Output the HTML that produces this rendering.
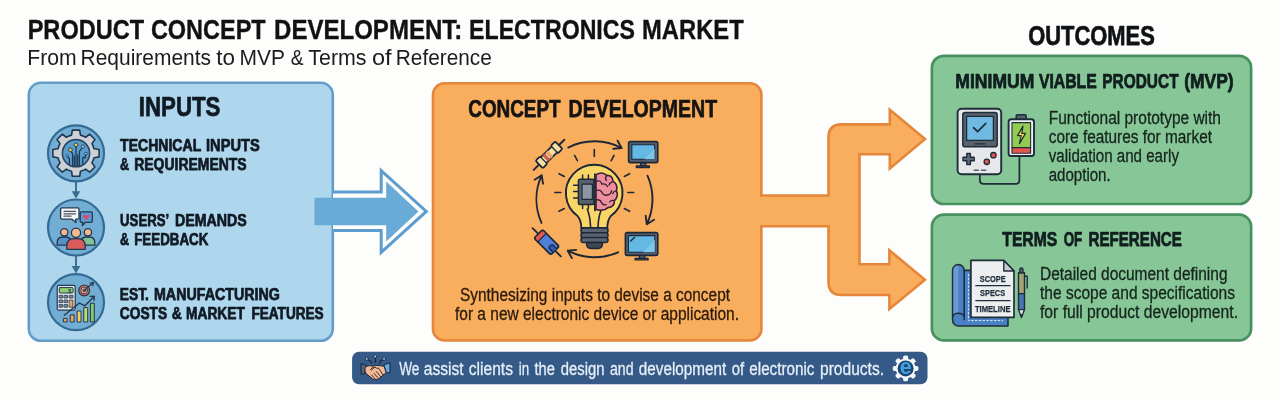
<!DOCTYPE html>
<html lang="en">
<head>
<meta charset="utf-8">
<title>Product Concept Development: Electronics Market</title>
<style>
html,body{margin:0;padding:0;background:#fdfdfb;}
body{width:1280px;height:400px;overflow:hidden;font-family:"Liberation Sans",sans-serif;}
svg{display:block;will-change:transform;}
text{font-family:"Liberation Sans",sans-serif;}
.b{font-weight:700;stroke:#111a24;stroke-width:0.75px;stroke-linejoin:round;}
.t{stroke-width:0.35px;stroke:#111;}
.r{stroke-width:0.3px;stroke-linejoin:round;}
</style>
</head>
<body>
<svg width="1280" height="400" viewBox="0 0 1280 400">
<rect x="0" y="0" width="1280" height="400" fill="#fdfdfb"/>

<!-- TITLE -->
<text class="b t" y="38.5" font-size="27" fill="#111" id="t-title"><tspan x="27.68" textLength="116.4" lengthAdjust="spacingAndGlyphs">PRODUCT</tspan> <tspan x="150.88" textLength="114.8" lengthAdjust="spacingAndGlyphs">CONCEPT</tspan> <tspan x="274.06" textLength="188.3" lengthAdjust="spacingAndGlyphs">DEVELOPMENT:</tspan> <tspan x="469.06" textLength="165.9" lengthAdjust="spacingAndGlyphs">ELECTRONICS</tspan> <tspan x="642.06" textLength="101.6" lengthAdjust="spacingAndGlyphs">MARKET</tspan></text>
<text  y="64.8" font-size="21.2" fill="#1c1c1c" id="t-sub"><tspan x="27.3" textLength="49.4" lengthAdjust="spacingAndGlyphs">From</tspan> <tspan x="80.54" textLength="130.5" lengthAdjust="spacingAndGlyphs">Requirements</tspan> <tspan x="216.32" textLength="18.7" lengthAdjust="spacingAndGlyphs">to</tspan> <tspan x="239.48" textLength="45.1" lengthAdjust="spacingAndGlyphs">MVP</tspan> <tspan x="290.76" textLength="12.8" lengthAdjust="spacingAndGlyphs">&amp;</tspan> <tspan x="308.38" textLength="58.2" lengthAdjust="spacingAndGlyphs">Terms</tspan> <tspan x="372.06" textLength="19.6" lengthAdjust="spacingAndGlyphs">of</tspan> <tspan x="395.86" textLength="95.9" lengthAdjust="spacingAndGlyphs">Reference</tspan></text>

<!-- INPUTS BOX -->
<rect x="28.8" y="82.8" width="304" height="258" rx="12" ry="12" fill="#aed6ed" stroke="#639ecb" stroke-width="2.6"/>
<text class="b" x="138.8" y="116.2" font-size="27.8" fill="#111a24" textLength="81.6" lengthAdjust="spacingAndGlyphs">INPUTS</text>

<text class="b" y="150.9" font-size="17.3" fill="#111a24" id="t-tech"><tspan x="120.08" textLength="80.9" lengthAdjust="spacingAndGlyphs">TECHNICAL</tspan> <tspan x="206.0" textLength="53.7" lengthAdjust="spacingAndGlyphs">INPUTS</tspan></text>
<text class="b" y="170.0" font-size="17.3" fill="#111a24" id="t-req"><tspan x="120.08" textLength="9.1" lengthAdjust="spacingAndGlyphs">&amp;</tspan> <tspan x="134.2" textLength="112.5" lengthAdjust="spacingAndGlyphs">REQUIREMENTS</tspan></text>
<text class="b" y="225.9" font-size="17.3" fill="#111a24" id="t-users"><tspan x="120.08" textLength="48.4" lengthAdjust="spacingAndGlyphs">USERS’</tspan> <tspan x="174.94" textLength="71.8" lengthAdjust="spacingAndGlyphs">DEMANDS</tspan></text>
<text class="b" y="245.0" font-size="17.3" fill="#111a24" id="t-feed"><tspan x="120.08" textLength="9.1" lengthAdjust="spacingAndGlyphs">&amp;</tspan> <tspan x="134.2" textLength="74.1" lengthAdjust="spacingAndGlyphs">FEEDBACK</tspan></text>
<text class="b" y="300.4" font-size="17.3" fill="#111a24" id="t-est"><tspan x="119.76" textLength="29.2" lengthAdjust="spacingAndGlyphs">EST.</tspan> <tspan x="154.0" textLength="125.8" lengthAdjust="spacingAndGlyphs">MANUFACTURING</tspan></text>
<text class="b" y="319.2" font-size="17.3" fill="#111a24" id="t-costs"><tspan x="119.76" textLength="47.4" lengthAdjust="spacingAndGlyphs">COSTS</tspan> <tspan x="171.76" textLength="10.0" lengthAdjust="spacingAndGlyphs">&amp;</tspan> <tspan x="185.94" textLength="59.0" lengthAdjust="spacingAndGlyphs">MARKET</tspan> <tspan x="251.38" textLength="72.3" lengthAdjust="spacingAndGlyphs">FEATURES</tspan></text>

<!-- connectors between circles -->
<g stroke="#3a6c93" stroke-width="1.9" fill="#3a6c93">
<line x1="76" y1="182" x2="76" y2="192"/>
<path d="M71.7 191.2 L80.3 191.2 L76 198.6 Z" stroke="none"/>
<line x1="76" y1="256" x2="76" y2="267"/>
<path d="M71.7 266 L80.3 266 L76 273.4 Z" stroke="none"/>
</g>

<!-- ICON CIRCLES -->
<g id="c1"><circle cx="76" cy="153.3" r="28" fill="#72add4" stroke="#346a94" stroke-width="2.2"/>
<path d="M94.05 148.72 L99.11 149.54 L99.11 156.86 L94.05 157.68 A18.60 18.60 0 0 1 91.93 162.79 L94.93 166.95 L89.75 172.13 L85.59 169.13 A18.60 18.60 0 0 1 80.48 171.25 L79.66 176.31 L72.34 176.31 L71.52 171.25 A18.60 18.60 0 0 1 66.41 169.13 L62.25 172.13 L57.07 166.95 L60.07 162.79 A18.60 18.60 0 0 1 57.95 157.68 L52.89 156.86 L52.89 149.54 L57.95 148.72 A18.60 18.60 0 0 1 60.07 143.61 L57.07 139.45 L62.25 134.27 L66.41 137.27 A18.60 18.60 0 0 1 71.52 135.15 L72.34 130.09 L79.66 130.09 L80.48 135.15 A18.60 18.60 0 0 1 85.59 137.27 L89.75 134.27 L94.93 139.45 L91.93 143.61 A18.60 18.60 0 0 1 94.05 148.72 Z" fill="#cdd1d6" stroke="#1f3854" stroke-width="1.6" stroke-linejoin="round"/>
<circle cx="76" cy="153.2" r="13.6" fill="#5a9dca" stroke="#2b4864" stroke-width="1.6"/>
<g fill="none" stroke="#1f3a57" stroke-width="1.3" stroke-linecap="round" stroke-linejoin="round">
<path d="M76 166.3 V147"/><path d="M72.6 165.8 V153.5 L71 151.6"/><path d="M79.4 165.8 V151.5 L81.8 148"/><path d="M82.8 164.2 V157.5 H85.5 V154.8"/><path d="M69.4 164.5 V158.6 L67.6 157"/><path d="M74.3 166 V156"/><path d="M77.7 166 V155"/>
</g>
<circle cx="76" cy="144.8" r="1.9" fill="#f2c94c" stroke="#1f3a57" stroke-width="0.9"/>
<circle cx="70.4" cy="149.8" r="1.9" fill="#f2c94c" stroke="#1f3a57" stroke-width="0.9"/>
<circle cx="82.8" cy="146.6" r="1.6" fill="#9fd0ee" stroke="#1f3a57" stroke-width="0.9"/>
<circle cx="86" cy="153.6" r="1.4" fill="#9fd0ee" stroke="#1f3a57" stroke-width="0.9"/>
<circle cx="67.2" cy="155.6" r="1.1" fill="#9fd0ee" stroke="#1f3a57" stroke-width="0.8"/>
</g>
<g id="c2"><circle cx="76" cy="227.5" r="28" fill="#72add4" stroke="#346a94" stroke-width="2.2"/>
<g stroke="#22384f" stroke-width="1.3" stroke-linejoin="round" stroke-linecap="round">
<!-- heart bubble -->
<path d="M81.5 211.8 H91 Q92.3 211.8 92.3 213.1 V221 Q92.3 222.3 91 222.3 H85.5 L82.3 225.6 L82.8 222.3 H81.5 Q80.2 222.3 80.2 221 V213.1 Q80.2 211.8 81.5 211.8 Z" fill="#5a9ad0"/>
<!-- white bubble -->
<path d="M62 207.8 H77.6 Q79 207.8 79 209.2 V217.8 Q79 219.2 77.6 219.2 H75.6 L76 222.6 L72 219.2 H62 Q60.6 219.2 60.6 217.8 V209.2 Q60.6 207.8 62 207.8 Z" fill="#f3f5f7"/>
<!-- left person -->
<path d="M57.2 245.2 V242.5 Q57.2 237 63 237 H65.6 Q70 237 71 241 L69 245.2 Z" fill="#5b8fc9"/>
<circle cx="64.3" cy="232.3" r="3.7" fill="#f4b98f"/>
<!-- right person -->
<path d="M94.8 245.2 V242.5 Q94.8 237 89 237 H86.4 Q82 237 81 241 L83 245.2 Z" fill="#7fc393"/>
<circle cx="87.9" cy="232.3" r="3.7" fill="#f4b98f"/>
<!-- centre person -->
<path d="M66.8 249.3 V246 Q66.8 238.6 74 238.6 H78 Q85.2 238.6 85.2 246 V249.3 Z" fill="#d95b5b"/>
<circle cx="76" cy="232.8" r="4.6" fill="#f4b98f"/>
</g>
<g stroke="#4a5560" stroke-width="1.2" stroke-linecap="round"><line x1="64" y1="211.3" x2="75.5" y2="211.3"/><line x1="64" y1="213.8" x2="75.5" y2="213.8"/><line x1="64" y1="216.2" x2="71" y2="216.2"/></g>
<path d="M86.3 220.3 L83.4 217.3 Q82.4 215.4 84.2 214.7 Q85.6 214.4 86.3 215.8 Q87 214.4 88.4 214.7 Q90.2 215.4 89.2 217.3 Z" fill="#dc4a72"/>
</g>
<g id="c3"><circle cx="76" cy="302.2" r="28" fill="#72add4" stroke="#346a94" stroke-width="2.2"/>
<g stroke="#22384f" stroke-width="1.2" stroke-linejoin="round" stroke-linecap="round">
<rect x="57.2" y="285.4" width="18" height="24.8" rx="1.8" fill="#e6e7e9"/>
<rect x="59.3" y="287.6" width="13.8" height="5.4" rx="0.8" fill="#8fcf74" stroke-width="1"/>
<g fill="#7c8792" stroke-width="0.8">
<rect x="59.4" y="295.4" width="3.3" height="2.6"/><rect x="64.4" y="295.4" width="3.3" height="2.6"/><rect x="69.6" y="295.4" width="3.3" height="2.6"/>
<rect x="59.4" y="300" width="3.3" height="2.6"/><rect x="64.4" y="300" width="3.3" height="2.6"/>
<rect x="59.4" y="304.6" width="3.3" height="2.6"/><rect x="64.4" y="304.6" width="3.3" height="2.6"/>
<rect x="69.6" y="300" width="3.3" height="7.2" fill="#f0a05a"/>
</g>
<!-- target -->
<circle cx="84.2" cy="290.4" r="5.4" fill="#e2674f"/>
<circle cx="84.2" cy="290.4" r="3.3" fill="#f6c9b4" stroke-width="0.9"/>
<circle cx="84.2" cy="290.4" r="1.5" fill="#e2674f" stroke-width="0.8"/>
<path d="M84.4 290.2 L92.6 283.2" fill="none" stroke-width="1.3"/>
<path d="M90 283 L93.2 282.6 L92.8 285.8" fill="none" stroke-width="1.2"/>
<!-- bars -->
<rect x="63.8" y="318.4" width="3.3" height="3.6" fill="#f0a35c" stroke-width="1"/>
<rect x="70.6" y="314.8" width="3.5" height="7.2" fill="#f0a35c" stroke-width="1"/>
<rect x="77.5" y="311" width="3.5" height="11" fill="#f3d35c" stroke-width="1"/>
<rect x="84.2" y="307.6" width="3.5" height="14.4" fill="#c3dc64" stroke-width="1"/>
<rect x="90.8" y="303.2" width="3.5" height="18.8" fill="#84cc66" stroke-width="1"/>
<!-- trend -->
<path d="M64.3 315.3 L79.4 303 L84.8 305.8 L93.4 297.2" fill="none" stroke-width="1.4"/>
<path d="M90.2 296.4 L94.2 296.2 L94 300.2" fill="none" stroke-width="1.4"/>
</g>
<text x="69.8" y="292.6" font-size="5.6" font-weight="700" fill="#22384f" text-anchor="middle">$</text>
</g>

<!-- BLUE ARROW -->
<g id="bluearrow">
<path d="M333 192 L381.2 192 L381.2 170.6 L426.3 211.4 L381.2 252.4 L381.2 230.6 L333 230.6" fill="#fdfdfb" stroke="#5c9ccf" stroke-width="3" stroke-linejoin="miter"/>
<path d="M314.5 197.7 L386.2 197.7 L386.2 181.6 L418.4 211.4 L386.2 241.4 L386.2 225.2 L314.5 225.2 Z" fill="#67abd6"/>
</g>

<!-- ORANGE BRANCH ARROWS -->
<g id="orangearrows">
<path d="M760 195.5 L828.5 195.5 L828.5 137.6 Q828.5 124.4 841.5 124.4 L889.8 124.4 L889.8 109.8 L925 139 L889.8 168.4 L889.8 154.3 L859.5 154.3 L859.5 264.3 L889.4 264.3 L889.4 250.3 L924.9 279.7 L889.4 309.1 L889.4 295 L841.5 295 Q828.5 295 828.5 282 L828.5 226.3 L760 226.3 Z" fill="#f9ae5e" stroke="#e5863a" stroke-width="2.6" stroke-linejoin="miter"/>
</g>

<!-- CONCEPT BOX -->
<rect x="433" y="83.2" width="328.4" height="257.3" rx="11.5" ry="11.5" fill="#f9ae5e" stroke="#e5863a" stroke-width="2.6"/>
<rect x="756" y="196.8" width="10" height="28.2" fill="#f9ae5e"/>
<text class="b" y="116.8" font-size="24" fill="#1a1208" id="t-concept"><tspan x="468.32" textLength="92.2" lengthAdjust="spacingAndGlyphs">CONCEPT</tspan> <tspan x="568.56" textLength="148.5" lengthAdjust="spacingAndGlyphs">DEVELOPMENT</tspan></text>
<text class="r" stroke="#2a1a0c" x="460" y="300.7" font-size="17.5" fill="#2a1a0c" textLength="270" lengthAdjust="spacingAndGlyphs">Synthesizing inputs to devise a concept</text>
<text class="r" stroke="#2a1a0c" x="455" y="320.2" font-size="17.5" fill="#2a1a0c" textLength="284" lengthAdjust="spacingAndGlyphs">for a new electronic device or application.</text>
<g id="bulb">
<g fill="none" stroke="#1d2738" stroke-width="1.9" stroke-linecap="round" stroke-linejoin="round">
<path d="M568.2 147.6 A58 58 0 0 1 621.7 148.1 M617.6 140.7 L621.7 148.1 M613.3 148.8 L621.7 148.1"/>
<path d="M647.5 175.7 A58 58 0 0 1 646.8 224.3 M654.1 219.8 L646.8 224.3 M645.7 215.8 L646.8 224.3"/>
<path d="M618.1 252.3 A58 58 0 0 1 567.7 250.7 M571.9 258.1 L567.7 250.7 M576.2 249.9 L567.7 250.7"/>
<path d="M541.5 222.9 A58 58 0 0 1 541.7 175.2 M534.6 179.8 L541.7 175.2 M543.0 183.7 L541.7 175.2"/>
<line x1="594.3" y1="156.5" x2="594.3" y2="149.5" stroke-width="1.6"/>
<line x1="611.2" y1="160.7" x2="614.0" y2="155.4" stroke-width="1.6"/>
<line x1="577.4" y1="160.7" x2="574.6" y2="155.4" stroke-width="1.6"/>
<line x1="624.3" y1="176.5" x2="629.6" y2="173.7" stroke-width="1.6"/>
<line x1="564.3" y1="176.5" x2="559.0" y2="173.7" stroke-width="1.6"/>
<line x1="627.8" y1="192.5" x2="633.8" y2="192.5" stroke-width="1.6"/>
<line x1="560.8" y1="192.5" x2="554.8" y2="192.5" stroke-width="1.6"/>
<line x1="624.3" y1="208.5" x2="629.6" y2="211.3" stroke-width="1.6"/>
<line x1="564.3" y1="208.5" x2="559.0" y2="211.3" stroke-width="1.6"/>
</g>
<g stroke="#1d2738" stroke-width="1.9" stroke-linejoin="round" stroke-linecap="round">
<path d="M581.3 228 Q581.3 220.5 577.6 216 A28.3 28.3 0 1 1 610.8 216 Q607.3 220.5 607.3 228 Z" fill="#f9d667"/>
<path d="M587.3 209 Q590.3 217 590.6 227.5 M601 210.5 Q598.3 217 598 227.5" fill="none" stroke-width="1.6"/>
<!-- chip -->
<g stroke-width="1.5"><path d="M573.6 185.2 H578 M573.6 191.6 H578 M573.6 198 H578 M582.6 175 V179 M588.4 175 V179 M582.6 204.4 V208.4 M588.4 204.4 V208.4" fill="none"/>
<rect x="578.4" y="179.2" width="15.6" height="25.2" rx="1.5" fill="#56616d"/>
<rect x="582" y="184.2" width="10.4" height="15.2" fill="#8b96a1" stroke-width="1.2"/></g>
<!-- brain -->
<path d="M596 174.6 Q602.5 171 606.6 175.4 Q612.6 175 613 181.4 Q618.2 184.4 616.4 190.6 Q619 196.4 614.4 200.6 Q614.6 207.2 608 207.6 Q603.6 211.8 596 209.6 Z" fill="#ee8fa0" stroke="#3a2233" stroke-width="1.6"/>
<path d="M596.4 181 Q601 180 601.6 184 Q606 183 607.4 186.6 M606.6 175.6 Q604.6 178.4 606.4 180.6 M612.6 181.8 Q609.6 182.4 609 185 M596.4 190.4 Q600.6 189.4 602 192.6 Q603.4 196 607.4 195 Q611 194.4 611.6 190.6 M616 190.8 Q613.2 191.4 612.6 193.6 M596.4 199.8 Q600.4 199.4 601.4 202.6 Q602.6 205.6 606.2 204.6 M614 200.6 Q611 200 609.6 202" fill="none" stroke="#3a2233" stroke-width="1.3"/>
<line x1="594.9" y1="174" x2="594.9" y2="210.4" stroke-width="1.7"/>
<!-- base -->
<rect x="581" y="228" width="27" height="5" rx="2.3" fill="#5a6470" stroke-width="1.5"/>
<rect x="581" y="232.8" width="27" height="5" rx="2.3" fill="#5a6470" stroke-width="1.5"/>
<rect x="581" y="237.6" width="27" height="5" rx="2.3" fill="#5a6470" stroke-width="1.5"/>
<path d="M586.6 242.6 H602.4 V244 Q602.4 248.4 598 248.4 H591 Q586.6 248.4 586.6 244 Z" fill="#3e4853" stroke-width="1.5"/>
</g>
<g transform="translate(549 154.8) rotate(-44.5)" stroke="#1d2738" stroke-width="1.8" stroke-linejoin="round" stroke-linecap="round">
<line x1="-21.5" y1="0" x2="21.5" y2="0" stroke-width="2"/>
<path d="M-13.8 -3.6 Q-13.8 -5.2 -12.2 -5.2 H-9.2 Q-7.8 -5.2 -7.2 -4 H7.2 Q7.8 -5.2 9.2 -5.2 H12.2 Q13.8 -5.2 13.8 -3.6 V3.6 Q13.8 5.2 12.2 5.2 H9.2 Q7.8 5.2 7.2 4 H-7.2 Q-7.8 5.2 -9.2 5.2 H-12.2 Q-13.8 5.2 -13.8 3.6 Z" fill="#f4dfa0"/>
<rect x="-5.6" y="-4" width="3.4" height="8" fill="#c7605a" stroke="none"/>
<rect x="-1.4" y="-4" width="3.4" height="8" fill="#e9a468" stroke="none"/>
<path d="M-7.6 -4.2 V4.2 M7.6 -4.2 V4.2" fill="none" stroke-width="1.3"/>
</g>
<g transform="translate(546.7 242.3) rotate(45)" stroke="#1d2738" stroke-width="1.7" stroke-linejoin="round" stroke-linecap="round">
<line x1="-20" y1="0" x2="20" y2="0" stroke-width="1.8"/>
<rect x="-11.8" y="-6" width="23.6" height="12" rx="2.2" fill="#4f80d8"/>
<path d="M-11.8 -3.8 Q-11.8 -6 -9.6 -6 H-6.6 V6 H-9.6 Q-11.8 6 -11.8 3.8 Z" fill="#e2574f" stroke-width="1.3"/>
<path d="M11.6 -2.6 H6.6 Q5 -2.6 5 -1 V1 Q5 2.6 6.6 2.6 H11.6" fill="#2f57b0" stroke-width="1.3"/>
</g>
<g stroke="#1d2738" stroke-width="1.6" stroke-linejoin="round">
<rect x="640.6" y="162.6" width="5.2" height="3.2" fill="#5a6470" stroke-width="1.2"/>
<rect x="636.2" y="165.8" width="13.4" height="1.8" rx="0.6" fill="#3e4853" stroke-width="1.2"/>
<rect x="628.6" y="141.6" width="29.2" height="21.0" rx="1.8" fill="#56616d"/>
<rect x="631.8" y="144.8" width="22.8" height="14.4" fill="#63b8e4" stroke-width="1.1"/>
<path d="M644.3 159.2 L654.6 148.4 V159.2 Z" fill="#7cc6ea" stroke="none"/>
</g>
<g stroke="#1d2738" stroke-width="1.6" stroke-linejoin="round">
<rect x="639.4" y="255.4" width="5.4" height="3.0" fill="#5a6470" stroke-width="1.2"/>
<rect x="635" y="258.4" width="13.2" height="1.6" rx="0.6" fill="#3e4853" stroke-width="1.2"/>
<rect x="625.4" y="232.6" width="32.4" height="22.8" rx="1.8" fill="#56616d"/>
<rect x="628.4" y="235.6" width="26.4" height="16.6" fill="#63b8e4" stroke-width="1.1"/>
<path d="M642.9 252.2 L654.8 239.8 V252.2 Z" fill="#7cc6ea" stroke="none"/>
</g>
<path d="M630.6 241 L634.6 237.4" stroke="#1d2738" stroke-width="1.4" stroke-linecap="round"/>
</g>

<!-- OUTCOMES -->
<text class="b" x="1028.2" y="44.7" font-size="27" fill="#111" textLength="126.6" lengthAdjust="spacingAndGlyphs">OUTCOMES</text>
<rect x="931.9" y="55.8" width="319.2" height="148.2" rx="12" ry="12" fill="#87c697" stroke="#479060" stroke-width="2.7"/>
<rect x="931.9" y="214.6" width="319.2" height="125.8" rx="12" ry="12" fill="#87c697" stroke="#479060" stroke-width="2.7"/>
<text class="b" y="87.7" font-size="20.5" fill="#10201a" id="t-mvp"><tspan x="955.32" textLength="79.0" lengthAdjust="spacingAndGlyphs">MINIMUM</tspan> <tspan x="1038.9" textLength="57.9" lengthAdjust="spacingAndGlyphs">VIABLE</tspan> <tspan x="1102.26" textLength="76.3" lengthAdjust="spacingAndGlyphs">PRODUCT</tspan> <tspan x="1184.32" textLength="49.3" lengthAdjust="spacingAndGlyphs">(MVP)</tspan></text>
<g class="r" font-size="17.5" fill="#15251c" stroke="#15251c">
<text x="1048.7" y="123.8" textLength="172.3" lengthAdjust="spacingAndGlyphs">Functional prototype with</text>
<text x="1048.7" y="142.6" textLength="163.3" lengthAdjust="spacingAndGlyphs">core features for market</text>
<text x="1048.7" y="161.8" textLength="130.3" lengthAdjust="spacingAndGlyphs">validation and early</text>
<text x="1048.7" y="180.6" textLength="62" lengthAdjust="spacingAndGlyphs">adoption.</text>
</g>
<g id="mvp" stroke="#1f2d3a" stroke-linejoin="round" stroke-linecap="round">
<path d="M979.9 174.4 V180.6 Q979.9 183.8 983.1 183.8 H1016.2 Q1019.4 183.8 1019.4 180.6 V156" fill="none" stroke-width="1.7"/>
<rect x="957.6" y="108.8" width="43.6" height="65.4" rx="4" fill="#e6e8ec" stroke-width="1.9"/>
<rect x="962.8" y="112.6" width="34.4" height="34.2" rx="2.4" fill="#59626c" stroke-width="1.5"/>
<rect x="966.6" y="116.4" width="26.8" height="24" fill="#6fb9e2" stroke-width="1.3"/>
<path d="M973.6 127.6 L977.6 131.6 L985.8 123.4" fill="none" stroke-width="1.7"/>
<line x1="975" y1="143.8" x2="985" y2="143.8" stroke-width="1.3"/>
<path d="M966.8 153.4 H970.4 V157.2 H974.2 V160.8 H970.4 V164.6 H966.8 V160.8 H963 V157.2 H966.8 Z" fill="#5f6973" stroke-width="1.4"/>
<circle cx="993.4" cy="155.2" r="2.7" fill="#e2564f" stroke-width="1.3"/>
<circle cx="986.8" cy="161.8" r="2.7" fill="#e2564f" stroke-width="1.3"/>
<path d="M974.2 170.2 H978.4 M981.4 170.2 H985.6" fill="none" stroke="#59626c" stroke-width="1.5"/>
<!-- battery -->
<rect x="1016.2" y="114.8" width="10" height="5" rx="1.2" fill="#59626c" stroke-width="1.5"/>
<rect x="1008.6" y="119.2" width="25.4" height="36.8" rx="2.6" fill="#eef0f2" stroke-width="1.9"/>
<rect x="1012" y="122.6" width="18.6" height="25" fill="#93cc52" stroke-width="1.1"/>
<rect x="1012" y="147.6" width="18.6" height="5.6" fill="#e2564f" stroke-width="1.1"/>
<path d="M1023 126 L1017.6 135.6 H1021.2 L1019.4 143.6 L1025.6 133.4 H1021.8 Z" fill="#f2d544" stroke-width="1.2"/>
</g>
<text class="b" y="246.0" font-size="20" fill="#10201a" id="t-tor"><tspan x="1002.34" textLength="54.9" lengthAdjust="spacingAndGlyphs">TERMS</tspan> <tspan x="1063.64" textLength="18.6" lengthAdjust="spacingAndGlyphs">OF</tspan> <tspan x="1088.44" textLength="93.5" lengthAdjust="spacingAndGlyphs">REFERENCE</tspan></text>
<g class="r" font-size="17.5" fill="#15251c" stroke="#15251c">
<text x="1040" y="280" textLength="187.5" lengthAdjust="spacingAndGlyphs">Detailed document defining</text>
<text x="1040" y="299.4" textLength="195" lengthAdjust="spacingAndGlyphs">the scope and specifications</text>
<text x="1040" y="318.3" textLength="198" lengthAdjust="spacingAndGlyphs">for full product development.</text>
</g>
<g id="tor" stroke="#1f2d3a" stroke-linejoin="round" stroke-linecap="round">
<!-- blueprint -->
<path d="M952.6 320 V270.4 A5.8 5.8 0 0 1 964.2 270.4 H1008 V326 H958.6 A6 6 0 0 1 952.6 320 Z" fill="#4a80c4" stroke-width="1.6"/>
<path d="M953.4 319 V270.4 A5 5 0 0 1 958.4 265.4 V314 Q954 314.4 953.4 319 Z" fill="#6a9ad6" stroke="none"/>
<path d="M964.2 270.4 V319.6" fill="none" stroke-width="1.6"/>
<path d="M952.8 317.2 Q953.6 313.2 958.2 313.2 Q962.8 313.2 964.2 316.4" fill="none" stroke-width="1.5"/>
<path d="M968.4 274 V320.6 H1003" fill="none" stroke="#dcebfa" stroke-width="1" stroke-dasharray="2.4 1.4" stroke-linecap="butt"/>
<!-- document -->
<path d="M970.9 260.4 H1003.8 L1014 271 V317.4 H970.9 Z" fill="#eceef0" stroke-width="1.7"/>
<path d="M1003.8 260.4 V271 H1014 Z" fill="#c9ced4" stroke-width="1.4"/>
<path d="M975.8 285.7 H1010 M975.8 300.6 H1010" fill="none" stroke-width="1.3"/>
<g stroke="#1f2d3a" stroke-width="0.25" fill="#1f2d3a" font-weight="700" font-size="9.8" text-anchor="middle">
<text x="992.7" y="281.6" textLength="26" lengthAdjust="spacingAndGlyphs">SCOPE</text>
<text x="992.6" y="296.3" textLength="25" lengthAdjust="spacingAndGlyphs">SPECS</text>
<text x="992.7" y="311.5" textLength="35.6" lengthAdjust="spacingAndGlyphs">TIMELINE</text>
</g>
<!-- pen -->
<path d="M1024.4 276.2 H1027.2 V288" fill="none" stroke-width="1.4"/>
<path d="M1018.5 272.8 H1024.5 V293.6 H1018.5 Z" fill="#a3a374" stroke-width="1.4"/>
<path d="M1018.5 293.6 H1024.5 V309.6 H1018.5 Z" fill="#4a72b4" stroke-width="1.4"/>
<path d="M1018.5 309.6 H1024.5 L1021.5 317.6 Z" fill="#e8eaec" stroke-width="1.3"/>
<path d="M1020.4 314.4 H1022.6 L1021.5 317.6 Z" fill="#1f2d3a" stroke-width="0.6"/>
<path d="M1019.8 272.8 V269.6 Q1019.8 268 1021.4 268 Q1023 268 1023 269.6 V272.8 Z" fill="#59626c" stroke-width="1.3"/>
</g>

<!-- BANNER -->
<rect x="352.1" y="351.7" width="575.4" height="32.6" rx="7" ry="7" fill="#355a87"/>
<text class="r" stroke="#e6eff8" y="374.6" font-size="17.5" fill="#e6eff8" ><tspan x="399.2" textLength="20.1" lengthAdjust="spacingAndGlyphs">We</tspan> <tspan x="423.8" textLength="39.8" lengthAdjust="spacingAndGlyphs">assist</tspan> <tspan x="468.8" textLength="44.2" lengthAdjust="spacingAndGlyphs">clients</tspan> <tspan x="518.8" textLength="10.4" lengthAdjust="spacingAndGlyphs">in</tspan> <tspan x="534.5" textLength="20.5" lengthAdjust="spacingAndGlyphs">the</tspan> <tspan x="560.8" textLength="43.7" lengthAdjust="spacingAndGlyphs">design</tspan> <tspan x="610" textLength="23.6" lengthAdjust="spacingAndGlyphs">and</tspan> <tspan x="638.8" textLength="87.4" lengthAdjust="spacingAndGlyphs">development</tspan> <tspan x="731.8" textLength="12.4" lengthAdjust="spacingAndGlyphs">of</tspan> <tspan x="749.3" textLength="65.2" lengthAdjust="spacingAndGlyphs">electronic</tspan> <tspan x="820" textLength="64.0" lengthAdjust="spacingAndGlyphs">products.</tspan></text>
<g id="handshake" stroke="#14263d" stroke-linejoin="round" stroke-linecap="round">
<g fill="none" stroke-width="1.2"><path d="M375.5 357.8 V362.4 M367.8 359.8 L370.4 361 L371.6 363.2 M383.2 359.8 L380.6 361 L379.4 363.2"/></g>
<circle cx="375.5" cy="356.4" r="1.3" fill="#cfe7f8" stroke-width="0.8"/>
<circle cx="366.9" cy="358.9" r="1.4" fill="#cfe7f8" stroke-width="0.8"/>
<circle cx="384.1" cy="358.9" r="1.4" fill="#cfe7f8" stroke-width="0.8"/>
<path d="M361.4 363.6 L366.8 365.8 L364.4 373.8 L361.6 374.3 Z" fill="#5c636c" stroke-width="1"/>
<path d="M389.6 362.7 L383.8 365 L386.4 372.6 L389.6 373 Z" fill="#6aa8e0" stroke-width="1"/>
<path d="M366.4 366.4 Q369.6 364.8 372.4 366.2 Q375.8 364.6 379 365.6 L384.2 366.2 L386 372.6 Q384.6 374.6 383 375 Q382.6 376.8 380.8 377 Q380 378.6 378.4 378.6 Q377.4 380 375.8 379.6 Q374.2 380.4 372.6 378.8 L366 373.6 Q364.6 371 365 368.6 Z" fill="#f6b98f" stroke-width="1"/>
<path d="M370.6 369.4 Q372 367.2 374.6 367 Q376.2 368.6 378.6 368.2 L383 374.8 M374.6 367 L371.4 370.4 M376.4 371.6 L380.8 376.8 M374 373.4 L378.4 378.4 M371.6 375 L375.6 379.4" fill="none" stroke-width="0.9"/>
</g>
<g id="egear">
<g fill="#f4f7fa"><rect x="903.1" y="355.6" width="5" height="5.5" rx="1.7" transform="rotate(0 905.6 368.4)"/><rect x="903.1" y="355.6" width="5" height="5.5" rx="1.7" transform="rotate(45 905.6 368.4)"/><rect x="903.1" y="355.6" width="5" height="5.5" rx="1.7" transform="rotate(90 905.6 368.4)"/><rect x="903.1" y="355.6" width="5" height="5.5" rx="1.7" transform="rotate(135 905.6 368.4)"/><rect x="903.1" y="355.6" width="5" height="5.5" rx="1.7" transform="rotate(180 905.6 368.4)"/><rect x="903.1" y="355.6" width="5" height="5.5" rx="1.7" transform="rotate(225 905.6 368.4)"/><rect x="903.1" y="355.6" width="5" height="5.5" rx="1.7" transform="rotate(270 905.6 368.4)"/><rect x="903.1" y="355.6" width="5" height="5.5" rx="1.7" transform="rotate(315 905.6 368.4)"/><circle cx="905.6" cy="368.4" r="9.9"/></g>
<circle cx="905.6" cy="368.4" r="8" fill="#1f4672"/>
<text x="905.7" y="374.1" font-size="21.5" font-weight="700" fill="#41a1dc" text-anchor="middle">e</text>
</g>
</svg>
</body>
</html>
